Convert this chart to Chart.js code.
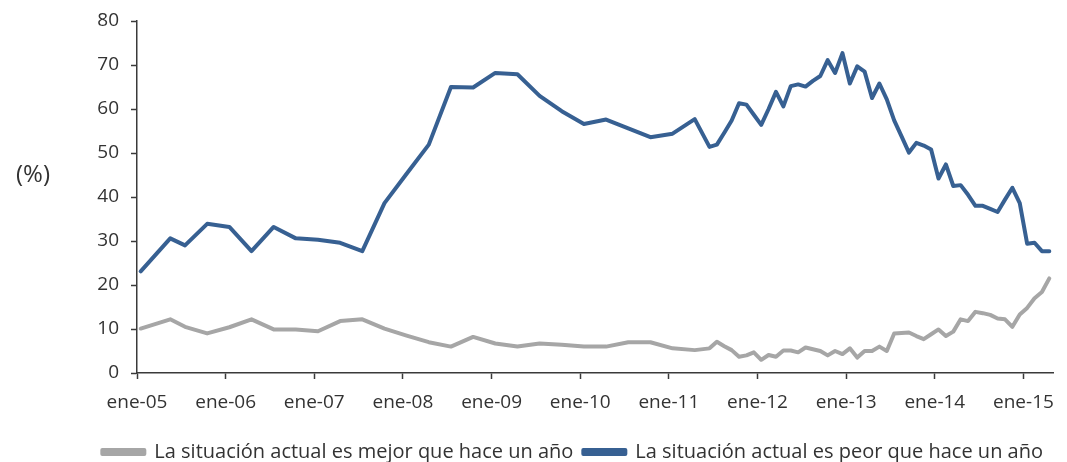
<!DOCTYPE html>
<html>
<head>
<meta charset="utf-8">
<script src="https://cdn.jsdelivr.net/npm/chart.js@4/dist/chart.umd.min.js"></script>
<style>
  html, body { margin: 0; padding: 0; background: #ffffff; }
  #wrap { position: relative; width: 1067px; height: 462px; }
</style>
</head>
<body>
<div id="wrap"><canvas id="c" width="1067" height="462"></canvas></div>
<script>
// Fechas de las observaciones (AAAA-MM)
const fechas = [
  '2005-01','2005-05','2005-07','2005-10',
  '2006-01','2006-04','2006-07','2006-10',
  '2007-01','2007-04','2007-07','2007-10',
  '2008-01','2008-04','2008-07','2008-10',
  '2009-01','2009-04','2009-07','2009-10',
  '2010-01','2010-04','2010-07','2010-10',
  '2011-01','2011-04','2011-06','2011-07','2011-08','2011-09','2011-10','2011-11','2011-12',
  '2012-01','2012-02','2012-03','2012-04','2012-05','2012-06','2012-07','2012-08','2012-09','2012-10','2012-11','2012-12',
  '2013-01','2013-02','2013-03','2013-04','2013-05','2013-06','2013-07','2013-08','2013-09','2013-10','2013-11','2013-12',
  '2014-01','2014-02','2014-03','2014-04','2014-05','2014-06','2014-07','2014-08','2014-09','2014-10','2014-11','2014-12',
  '2015-01','2015-02','2015-03','2015-04'
];
// La situación actual es mejor que hace un año (%)
const mejor = [
  10.1, 12.2, 10.5, 9.0,
  10.4, 12.2, 9.9, 9.9,
  9.5, 11.8, 12.2, 10.1,
  8.5, 7.0, 6.0, 8.2,
  6.7, 6.0, 6.7, 6.4,
  6.0, 6.0, 7.0, 7.0,
  5.6, 5.2, 5.6, 7.1, 6.1, 5.2, 3.7, 4.0, 4.7,
  3.0, 4.1, 3.7, 5.1, 5.1, 4.7, 5.8, 5.4, 5.0, 4.0, 5.0, 4.3,
  5.6, 3.5, 5.0, 5.0, 6.0, 5.0, 9.0, 9.1, 9.2, 8.4, 7.7, 8.8,
  9.9, 8.4, 9.4, 12.2, 11.8, 13.9, 13.6, 13.2, 12.4, 12.2, 10.5, 13.3,
  14.8, 17.0, 18.4, 21.5
];
// La situación actual es peor que hace un año (%)
const peor = [
  23.1, 30.6, 29.0, 33.9,
  33.2, 27.7, 33.2, 30.6,
  30.3, 29.6, 27.7, 38.6,
  45.3, 51.9, 65.0, 64.9,
  68.2, 67.9, 63.0, 59.5,
  56.6, 57.6, 55.6, 53.6,
  54.4, 57.7, 51.4, 51.9, 54.6, 57.4, 61.3, 61.0, 58.7,
  56.4, 60.0, 63.9, 60.6, 65.2, 65.6, 65.1, 66.4, 67.5, 71.1, 68.2, 72.7,
  65.8, 69.7, 68.5, 62.5, 65.8, 62.2, 57.4, 53.8, 50.1, 52.3, 51.7, 50.8,
  44.2, 47.4, 42.5, 42.7, 40.5, 38.0, 38.0, 37.3, 36.6, 39.4, 42.1, 38.6,
  29.4, 29.6, 27.7, 27.7
];
const tickLabels = ['ene-05','ene-06','ene-07','ene-08','ene-09','ene-10','ene-11','ene-12','ene-13','ene-14','ene-15'];
const serieNombres = ['La situación actual es mejor que hace un año', 'La situación actual es peor que hace un año'];
const yTitle = '(%)';

// months since Jan 2005, centered in the month slot
const toX = f => { const [y, m] = f.split('-').map(Number); return (y - 2005) * 12 + (m - 1) + 0.5; };
const pts = vals => fechas.map((f, i) => ({ x: toX(f), y: vals[i] }));
const tickPositions = tickLabels.map((t, i) => i * 12);

const FONT = '"Open Sans", "DejaVu Sans", sans-serif';
const TXT = '#333333';
const AX = '#3a3a3a';

const yTitlePlugin = {
  id: 'yTitlePlugin',
  afterDraw(chart) {
    const ctx = chart.ctx;
    ctx.save();
    ctx.font = '24px ' + FONT;
    ctx.fillStyle = TXT;
    ctx.textAlign = 'center';
    ctx.textBaseline = 'middle';
    ctx.fillText(yTitle, 33, 175);
    ctx.restore();
  }
};

new Chart(document.getElementById('c'), {
  type: 'line',
  data: {
    datasets: [
      { label: serieNombres[0], data: pts(mejor), borderColor: '#A6A6A6', backgroundColor: '#A6A6A6',
        borderWidth: 4, pointRadius: 0, tension: 0, borderCapStyle: 'round', borderJoinStyle: 'round' },
      { label: serieNombres[1], data: pts(peor), borderColor: '#376092', backgroundColor: '#376092',
        borderWidth: 4, pointRadius: 0, tension: 0, borderCapStyle: 'round', borderJoinStyle: 'round' }
    ]
  },
  options: {
    responsive: false,
    animation: false,
    layout: { padding: { left: 0, right: 14, top: 7, bottom: -10 } },
    plugins: {
      legend: {
        position: 'bottom',
        align: 'end',
        labels: {
          font: { family: FONT, size: 20 },
          color: TXT,
          boxWidth: 42,
          boxHeight: 4,
          padding: 10
        }
      },
      tooltip: { enabled: false }
    },
    scales: {
      x: {
        type: 'linear',
        min: 0,
        max: 124,
        afterBuildTicks: s => { s.ticks = tickPositions.map(v => ({ value: v })); },
        afterFit: s => { s.height = 59; },
        grid: { display: true, drawOnChartArea: false, drawTicks: true, tickLength: 6, color: AX, tickWidth: 1.5 },
        border: { display: true, color: AX, width: 1.5 },
        ticks: {
          autoSkip: false, maxRotation: 0, padding: 12,
          font: { family: FONT, size: 19 }, color: TXT,
          callback: (v, i) => tickLabels[i]
        }
      },
      y: {
        min: 0,
        max: 80,
        afterFit: s => { s.width = 137; },
        grid: { display: true, drawOnChartArea: false, drawTicks: true, tickLength: 6, color: AX, tickWidth: 1.5 },
        border: { display: true, color: AX, width: 1.5 },
        ticks: { stepSize: 10, padding: 12, font: { family: FONT, size: 19, lineHeight: 0.95 }, color: TXT }
      }
    }
  },
  plugins: [yTitlePlugin]
});
</script>
</body>
</html>
